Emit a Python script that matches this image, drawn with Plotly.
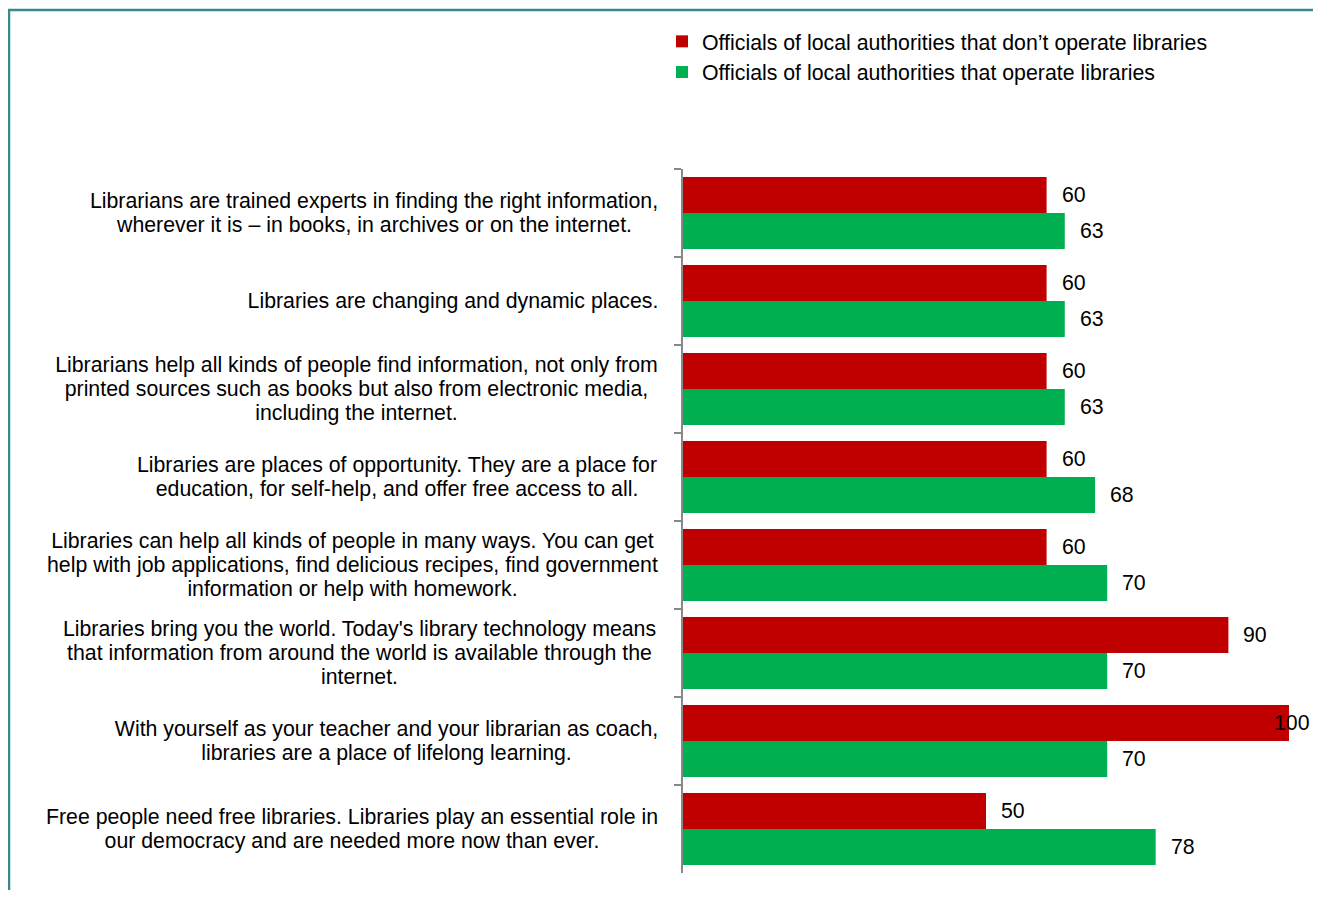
import plotly.graph_objects as go

categories = [
    "Librarians are trained experts in finding the right information, wherever it is – in books, in archives or on the internet.",
    "Libraries are changing and dynamic places.",
    "Librarians help all kinds of people find information, not only from printed sources such as books but also from electronic media, including the internet.",
    "Libraries are places of opportunity. They are a place for education, for self-help, and offer free access to all.",
    "Libraries can help all kinds of people in many ways. You can get help with job applications, find delicious recipes, find government information or help with homework.",
    "Libraries bring you the world. Today's library technology means that information from around the world is available through the internet.",
    "With yourself as your teacher and your librarian as coach, libraries are a place of lifelong learning.",
    "Free people need free libraries. Libraries play an essential role in our democracy and are needed more now than ever.",
]
# how each category label wraps in the reference
category_lines = [
    ["Librarians are trained experts in finding the right information,",
     "wherever it is – in books, in archives or on the internet."],
    ["Libraries are changing and dynamic places."],
    ["Librarians help all kinds of people find information, not only from",
     "printed sources such as books but also from electronic media,",
     "including the internet."],
    ["Libraries are places of opportunity. They are a place for",
     "education, for self-help, and offer free access to all."],
    ["Libraries can help all kinds of people in many ways. You can get",
     "help with job applications, find delicious recipes, find government",
     "information or help with homework."],
    ["Libraries bring you the world. Today's library technology means",
     "that information from around the world is available through the",
     "internet."],
    ["With yourself as your teacher and your librarian as coach,",
     "libraries are a place of lifelong learning."],
    ["Free people need free libraries. Libraries play an essential role in",
     "our democracy and are needed more now than ever."],
]
series_names = [
    "Officials of local authorities that don’t operate libraries",
    "Officials of local authorities that operate libraries",
]
non_operating = [60, 60, 60, 60, 60, 90, 100, 50]
operating = [63, 63, 63, 68, 70, 70, 70, 78]

RED = "#C00000"
GREEN = "#00B050"
FONT = "Liberation Sans, Arial, sans-serif"
FS = 21.3

# page has an 8px body margin; work in figure pixels
W, H = 1313, 882
ML, MR, MT, MB = 675, 32, 161, 17
PW, PH = W - ML - MR, H - MT - MB

# label block widths (layout), used to center wrapped lines
block_widths = [572, 414, 607, 526, 615, 601, 547, 616]
LINE_H = 24

fig = go.Figure()
fig.add_trace(go.Bar(y=categories, x=non_operating, orientation="h", name=series_names[0],
                     marker=dict(color=RED, line=dict(width=0))))
fig.add_trace(go.Bar(y=categories, x=operating, orientation="h", name=series_names[1],
                     marker=dict(color=GREEN, line=dict(width=0))))

annotations = []
for c, lines, bw in zip(categories, category_lines, block_widths):
    n = len(lines)
    for i, ln in enumerate(lines):
        annotations.append(dict(x=0, xref="paper", y=c, yref="y", text=ln, showarrow=False,
                                xanchor="right", yanchor="middle", align="center",
                                width=bw, borderpad=0, xshift=-22,
                                yshift=((n - 1) / 2 - i) * LINE_H,
                                font=dict(family=FONT, size=FS, color="#000000")))
for vals, ys in ((non_operating, 18), (operating, -18)):
    for c, v in zip(categories, vals):
        annotations.append(dict(x=v, xref="x", y=c, yref="y", text=str(v), showarrow=False,
                                xanchor="left", yanchor="middle",
                                xshift=13 if v < 95 else -17, yshift=ys,
                                font=dict(family=FONT, size=FS, color="#000000")))

def px_to_paper_x(px):
    return (px - ML) / PW

def px_to_paper_y(py):
    return (H - MB - py) / PH

border_path = "M {x0},{y0} L {x0},{y1} L {x2},{y1}".format(
    x0=px_to_paper_x(1), y0=px_to_paper_y(900), y1=px_to_paper_y(2), x2=px_to_paper_x(1330))

fig.update_layout(
    width=W, height=H,
    margin=dict(l=ML, r=MR, t=MT, b=MB, autoexpand=False),
    paper_bgcolor="white", plot_bgcolor="white",
    barmode="group", bargap=0.18, bargroupgap=0,
    font=dict(family=FONT, size=FS, color="#000000"),
    showlegend=True,
    legend=dict(x=px_to_paper_x(654), y=px_to_paper_y(13), xanchor="left", yanchor="top",
                font=dict(family=FONT, size=FS, color="#000000"), traceorder="normal",
                bgcolor="rgba(0,0,0,0)", itemwidth=30),
    xaxis=dict(range=[0, 100], showgrid=False, zeroline=False, showline=False,
               showticklabels=False, ticks=""),
    yaxis=dict(autorange="reversed", showgrid=False, zeroline=False, showline=True,
               linecolor="#888888", linewidth=2, ticks="outside", tickson="boundaries",
               ticklen=7, tickwidth=2, tickcolor="#888888", showticklabels=False),
    annotations=annotations,
    shapes=[dict(type="path", xref="paper", yref="paper", path=border_path,
                 line=dict(color="#3A8A8C", width=2.5))],
)

fig.write_html("out.html")
